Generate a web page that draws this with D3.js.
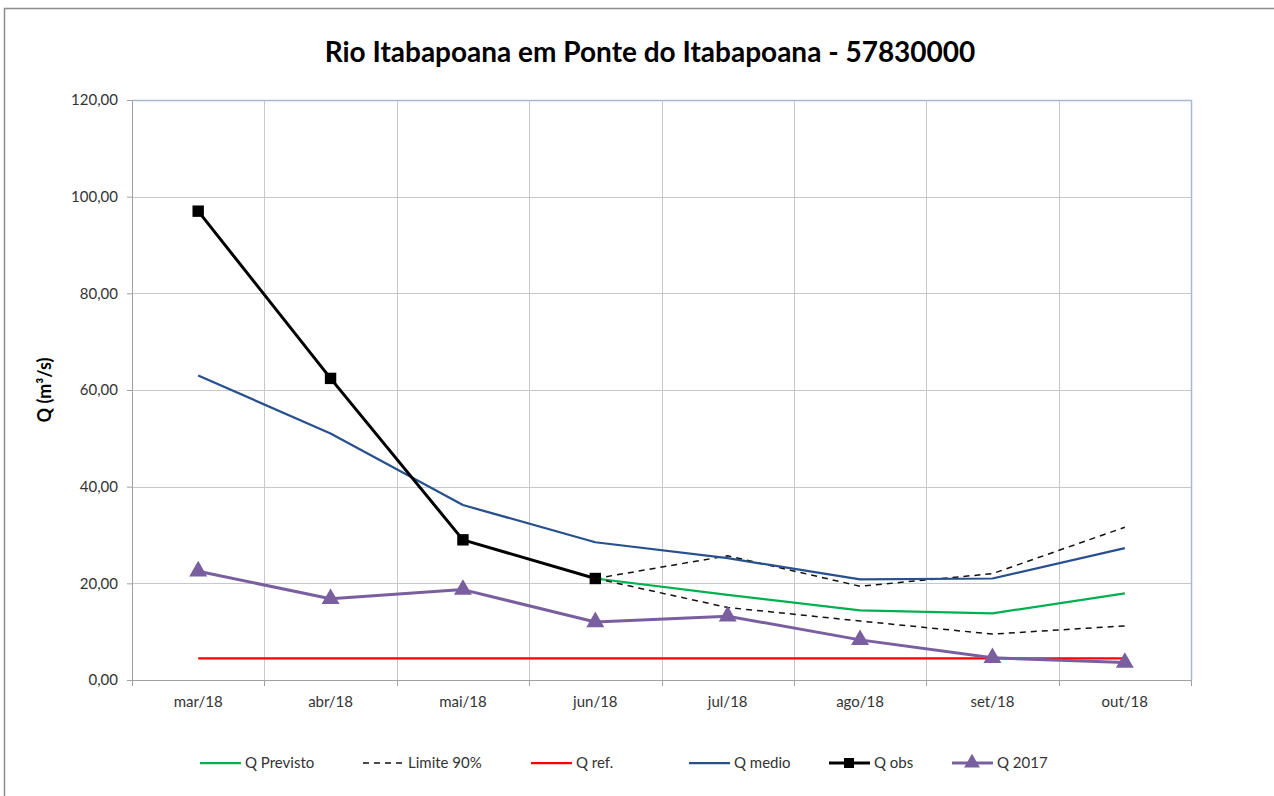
<!DOCTYPE html>
<html>
<head>
<meta charset="utf-8">
<script src="https://cdn.jsdelivr.net/npm/d3@7"></script>
<style>
  body { margin: 0; background: #fff; }
  svg { font-family: Lato, "Open Sans", sans-serif; }
</style>
</head>
<body>
<svg id="chart" width="1274" height="796"></svg>
<script>
// months on the x axis
var categories = ["mar/18", "abr/18", "mai/18", "jun/18", "jul/18", "ago/18", "set/18", "out/18"];

// series values (m3/s), null where the series has no point
var qPrevisto = [null, null, null, 21.0, 17.6, 14.4, 13.8, 17.9];
var limiteSup = [null, null, null, 21.0, 25.7, 19.4, 22.0, 31.6];
var limiteInf = [null, null, null, 21.0, 15.0, 12.2, 9.5, 11.2];
var qRef      = [4.5, 4.5, 4.5, 4.5, 4.5, 4.5, 4.5, 4.5];
var qMedio    = [63.0, 51.0, 36.2, 28.5, 25.2, 20.8, 21.0, 27.3];
var qObs      = [97.0, 62.4, 29.0, 21.0, null, null, null, null];
var q2017     = [22.5, 16.8, 18.7, 12.0, 13.2, 8.3, 4.6, 3.6];

var yTicks = [0, 20, 40, 60, 80, 100, 120];

var svg = d3.select("#chart");
var margin = {top: 100, right: 83, bottom: 116, left: 132},
    width = 1274 - margin.left - margin.right,
    height = 796 - margin.top - margin.bottom;

// outer chart frame
svg.append("rect")
    .attr("x", 4.5).attr("y", 8.5)
    .attr("width", 1290).attr("height", 820)
    .attr("fill", "none").attr("stroke", "#8c8c8c").attr("stroke-width", 1.5);

svg.append("text")
    .attr("x", 650).attr("y", 62)
    .attr("text-anchor", "middle")
    .attr("font-size", 28).attr("font-weight", "bold")
    .attr("fill", "#000")
    .text("Rio Itabapoana em Ponte do Itabapoana - 57830000");

var g = svg.append("g")
    .attr("transform", "translate(" + margin.left + "," + margin.top + ")");

var x = d3.scaleBand().domain(categories).range([0, width]).padding(0);
var y = d3.scaleLinear().domain([0, 120]).range([height, 0]);
function cx(i) { return x(categories[i]) + x.bandwidth() / 2; }

// horizontal gridlines
g.append("g").selectAll("line")
  .data(yTicks.slice(1, -1))
  .enter().append("line")
    .attr("x1", 0).attr("x2", width)
    .attr("y1", function(d) { return Math.round(y(d)) + 0.5; })
    .attr("y2", function(d) { return Math.round(y(d)) + 0.5; })
    .attr("stroke", "#c8c8c8");

// vertical gridlines at band edges
g.append("g").selectAll("line")
  .data(categories.slice(1))
  .enter().append("line")
    .attr("x1", function(d) { return Math.round(x(d)) + 0.5; })
    .attr("x2", function(d) { return Math.round(x(d)) + 0.5; })
    .attr("y1", 0).attr("y2", height)
    .attr("stroke", "#c8c8c8");

// plot area top and right border
g.append("path")
    .attr("d", "M0,0.5H" + (width + 0.5) + "V" + height)
    .attr("fill", "none").attr("stroke", "#a6b8d4").attr("stroke-width", 1.5);

// y axis
var yAxis = g.append("g")
    .attr("class", "axis axis--y")
    .call(d3.axisLeft(y).tickValues(yTicks).tickSize(5).tickPadding(9)
      .tickFormat(function(d) { return d3.format(".2f")(d).replace(".", ","); }));
yAxis.select(".domain").attr("stroke", "#a0a0a0").attr("d", "M0.5," + height + "V0");
yAxis.selectAll(".tick line").attr("stroke", "#a0a0a0");
yAxis.selectAll("text").attr("font-size", 15).attr("fill", "#333").attr("font-family", "Lato");

// x axis with ticks at band edges
var xAxisG = g.append("g")
    .attr("class", "axis axis--x")
    .attr("transform", "translate(0," + height + ")");
xAxisG.append("line")
    .attr("x1", -5).attr("x2", width + 0.5).attr("y1", 0.5).attr("y2", 0.5)
    .attr("stroke", "#a0a0a0");
xAxisG.selectAll(".edge")
  .data(x.domain().map(function(d) { return x(d); }).concat([width]))
  .enter().append("line")
    .attr("class", "edge")
    .attr("x1", function(d) { return Math.round(d) + 0.5; })
    .attr("x2", function(d) { return Math.round(d) + 0.5; })
    .attr("y1", 0).attr("y2", 6)
    .attr("stroke", "#a0a0a0");
xAxisG.selectAll(".lbl")
  .data(categories)
  .enter().append("text")
    .attr("class", "lbl")
    .attr("x", function(d, i) { return cx(i); })
    .attr("y", 27)
    .attr("text-anchor", "middle")
    .attr("font-size", 15).attr("fill", "#333")
    .text(function(d) { return d; });

// y axis title
svg.append("text")
    .attr("transform", "translate(51,390) rotate(-90)")
    .attr("text-anchor", "middle")
    .attr("font-size", 18).attr("font-weight", "bold")
    .text("Q (m³/s)");

var line = d3.line()
    .defined(function(d) { return d != null; })
    .x(function(d, i) { return cx(i); })
    .y(function(d) { return y(d); });

var series = [
  {name: "Q Previsto", data: qPrevisto, color: "#00b050", w: 2.25},
  {name: "Limite 90%", data: limiteSup, color: "#111", w: 1.5, dash: "6,5"},
  {name: "Limite 90%", data: limiteInf, color: "#111", w: 1.5, dash: "6,5"},
  {name: "Q ref.", data: qRef, color: "#ff0000", w: 2.25},
  {name: "Q medio", data: qMedio, color: "#27508c", w: 2.25},
  {name: "Q obs", data: qObs, color: "#000", w: 3, marker: "square"},
  {name: "Q 2017", data: q2017, color: "#7a5fa0", w: 3, marker: "triangle"}
];

series.forEach(function(s) {
  g.append("path")
      .datum(s.data)
      .attr("fill", "none")
      .attr("stroke", s.color)
      .attr("stroke-width", s.w)
      .attr("stroke-dasharray", s.dash || null)
      .attr("stroke-linejoin", "round")
      .attr("d", line);
  if (s.marker) {
    var sym = d3.symbol()
        .type(s.marker === "square" ? d3.symbolSquare : d3.symbolTriangle)
        .size(s.marker === "square" ? 130 : 140);
    g.selectAll(null)
      .data(s.data.map(function(v, i) { return {v: v, i: i}; }).filter(function(d) { return d.v != null; }))
      .enter().append("path")
        .attr("transform", function(d) { return "translate(" + cx(d.i) + "," + y(d.v) + ")"; })
        .attr("d", sym)
        .attr("fill", s.color);
  }
});

// legend
var legendItems = [
  {name: "Q Previsto", color: "#00b050", w: 2.25, x: 200},
  {name: "Limite 90%", color: "#111", w: 1.5, dash: "6,5", x: 363},
  {name: "Q ref.", color: "#ff0000", w: 2.25, x: 531},
  {name: "Q medio", color: "#27508c", w: 2.25, x: 689},
  {name: "Q obs", color: "#000", w: 3, marker: "square", x: 829},
  {name: "Q 2017", color: "#7a5fa0", w: 3, marker: "triangle", x: 952}
];
var legend = svg.append("g");
legendItems.forEach(function(d) {
  var lg = legend.append("g").attr("transform", "translate(" + d.x + ",763)");
  lg.append("line")
      .attr("x1", 0).attr("x2", 41).attr("y1", 0).attr("y2", 0)
      .attr("stroke", d.color).attr("stroke-width", d.w)
      .attr("stroke-dasharray", d.dash || null);
  if (d.marker) {
    lg.append("path")
        .attr("transform", "translate(20,0)")
        .attr("d", d3.symbol()
          .type(d.marker === "square" ? d3.symbolSquare : d3.symbolTriangle)
          .size(d.marker === "square" ? 100 : 110))
        .attr("fill", d.color);
  }
  lg.append("text")
      .attr("x", 45).attr("y", 5)
      .attr("font-size", 15).attr("fill", "#333")
      .text(d.name);
});
</script>
</body>
</html>
